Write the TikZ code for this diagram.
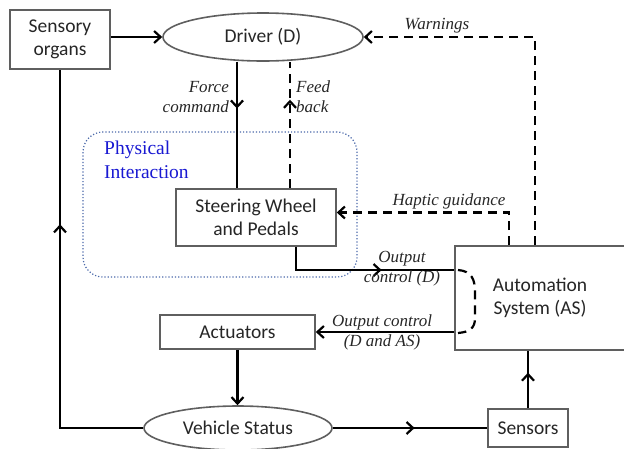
\documentclass[tikz,border=0pt]{standalone}
\usepackage{fontspec}
\setmainfont{Liberation Serif}
\newfontfamily\boxfont{Carlito}
\usetikzlibrary{arrows.meta,shapes.geometric,decorations.markings,calc}
\definecolor{bordergray}{RGB}{95,95,95}
\definecolor{physblue}{RGB}{75,105,170}
\definecolor{labelblue}{RGB}{25,25,210}
\begin{document}
\begin{tikzpicture}[x=1pt,y=-1pt,
  tip/.tip={Straight Barb[length=6.5pt,width=12pt]},
  box/.style={draw=bordergray, line width=1.6pt, fill=white, text=black!85,
    font=\boxfont\fontsize{19.5}{23}\selectfont, align=center, inner sep=0pt},
  oval/.style={ellipse, draw=bordergray, line width=1.6pt, fill=white, text=black!85,
    font=\boxfont\fontsize{19.5}{23}\selectfont, inner sep=0pt},
  phys/.style={draw=physblue, line width=1.2pt, dotted, rounded corners=20pt, inner sep=0pt},
  conn/.style={line width=2.2pt, black},
  dashline/.style={dash pattern=on 9pt off 6pt},
  lab/.style={font=\itshape\fontsize{17}{20}\selectfont, align=center, inner sep=0pt, text=black!85},
  midarrow/.style={postaction={decorate}, decoration={markings,
    mark=at position #1 with {\arrow{tip}}}}
]
\useasboundingbox (0,0) rectangle (624,448);

% region
\node[phys, minimum width=274pt, minimum height=145pt] (physreg) at (220,204.5) {};
\node[anchor=west, text=labelblue, font=\fontsize{19.5}{24}\selectfont, align=left, inner sep=0pt] (physlab) at (104,160) {Physical\\Interaction};

% nodes
\node[box, minimum width=100pt, minimum height=59pt] (sens) at (60,39.5) {Sensory\\organs};
\node[oval, minimum width=200pt, minimum height=48pt] (drv) at (263,37) {Driver (D)};
\node[box, minimum width=160pt, minimum height=57pt] (steer) at (256,217.5) {Steering Wheel\\and Pedals};
\node[box, minimum width=170pt, minimum height=104pt] (as) at (540,298) {Automation\\System (AS)};
\node[box, minimum width=155pt, minimum height=34pt] (act) at (237.5,332) {Actuators};
\node[oval, minimum width=188pt, minimum height=44pt] (veh) at (238,428) {Vehicle Status};
\node[box, minimum width=80pt, minimum height=38pt] (sensr) at (528,428) {Sensors};

% connectors
\draw[conn,-tip] (sens.east |- drv.west) -- (drv.west);
\draw[conn, midarrow=0.37] ([xshift=-26pt]drv.south) -- ([xshift=-26pt]drv.south |- steer.north);
\draw[conn, dashline, midarrow=0.7] ([xshift=34pt]steer.north) -- ([xshift=34pt]steer.north |- drv.south);
\draw[conn, dashline, -tip] ([xshift=-5pt]as.north) |- (drv.east);
\draw[conn, dashline, -tip] ([xshift=-31pt]as.north) |- ([yshift=5pt]steer.east);
\draw[conn, midarrow=0.6] ([xshift=40pt]steer.south) |- ([yshift=28pt]as.west);
\draw[conn, dashline] (458,270) .. controls (472,271) and (475,280) .. (475,292) -- (475,318) .. controls (475,328) and (470,332) .. (458,333);
\draw[conn, -tip] (act.east -| as.west) -- (act.east);
\draw[conn, -tip] (act.south) -- (act.south |- veh.north);
\draw[conn, midarrow=0.65] (veh.west) -| (sens.south);
\draw[conn, midarrow=0.53] (veh.east) -- (sensr.west);
\draw[conn, midarrow=0.62] (sensr.north) -- (sensr.north |- as.south);

% labels
\node[lab, anchor=east, align=right] (lforce) at (229,97) {Force\\command};
\node[lab, anchor=west, align=left] (lfeed) at (296,97) {Feed\\back};
\node[lab] (lwarn) at (437,26) {Warnings};
\node[lab] (lhap) at (449,201) {Haptic guidance};
\node[lab] (lod) at (402,269) {Output\\control (D)};
\node[lab] (lodas) at (382,332) {Output control\\(D and AS)};
\end{tikzpicture}
\end{document}
